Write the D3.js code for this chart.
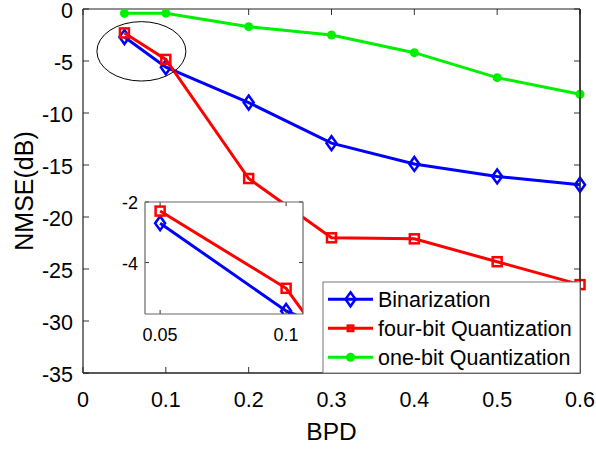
<!DOCTYPE html>
<head>
<meta charset="UTF-8">
<title>NMSE vs BPD</title>
<style>
body { margin: 0; background: #fff; }
text { font-family: "Liberation Sans", Arial, sans-serif; }
.line { fill: none; stroke-width: 3px; }
</style>
</head>
<body>
<script src="https://cdn.jsdelivr.net/npm/d3@7/dist/d3.min.js"></script>
<script>

// data
var bpd = [0.05, 0.1, 0.2, 0.3, 0.4, 0.5, 0.6];
var binarization = [-2.7, -5.6, -9.0, -12.9, -14.9, -16.1, -16.9];
var fourBit = [-2.3, -4.85, -16.3, -22.0, -22.1, -24.3, -26.5];
var oneBit = [-0.42, -0.4, -1.7, -2.5, -4.2, -6.6, -8.2];
var xTicks = [0, 0.1, 0.2, 0.3, 0.4, 0.5, 0.6];
var yTicks = [0, -5, -10, -15, -20, -25, -30, -35];
var insetXTicks = [0.05, 0.1];
var insetYTicks = [-2, -4];

var series = [
  {name: "Binarization", values: binarization, color: "#0000ff", marker: "diamond"},
  {name: "four-bit Quantization", values: fourBit, color: "#ff0000", marker: "square"},
  {name: "one-bit Quantization", values: oneBit, color: "#00f000", marker: "circle"}
];

var W = 596, H = 449;
var margin = {top: 9, right: 16, bottom: 76, left: 83};

var svg = d3.select("body").append("svg")
    .attr("width", W)
    .attr("height", H);

var x = d3.scaleLinear().domain([0, 0.6]).range([margin.left, W - margin.right]);
var y = d3.scaleLinear().domain([-35, 0]).range([H - margin.bottom, margin.top]);

// draw a marker at px,py
function drawMarker(g, type, px, py, color, s) {
  s = s || 1;
  if (type == "diamond") {
    g.append("path")
      .attr("d", "M" + px + "," + (py - 7 * s) + " L" + (px + 5 * s) + "," + py + " L" + px + "," + (py + 7 * s) + " L" + (px - 5 * s) + "," + py + " Z")
      .attr("fill", "none").attr("stroke", color).attr("stroke-width", 2.5);
  } else if (type == "square") {
    g.append("rect")
      .attr("x", px - 4.5 * s).attr("y", py - 4.5 * s)
      .attr("width", 9 * s).attr("height", 9 * s)
      .attr("fill", "none").attr("stroke", color).attr("stroke-width", 2.5);
  } else {
    g.append("circle")
      .attr("cx", px).attr("cy", py).attr("r", 4.5 * s)
      .attr("fill", color);
  }
}

// box with inside ticks on all sides
function drawBox(g, xs, ys, xt, yt, fsize, tickLen, boxColor, xLabDy, yLabDx) {
  var x0 = xs.range()[0], x1 = xs.range()[1];
  var y0 = ys.range()[1], y1 = ys.range()[0];
  xt.forEach(function(t) {
    g.append("line").attr("x1", xs(t)).attr("x2", xs(t)).attr("y1", y1).attr("y2", y1 - tickLen).attr("stroke", "#333");
    g.append("line").attr("x1", xs(t)).attr("x2", xs(t)).attr("y1", y0).attr("y2", y0 + tickLen).attr("stroke", "#333");
    g.append("text").attr("x", xs(t)).attr("y", y1 + xLabDy)
      .attr("text-anchor", "middle").attr("font-size", fsize).text(String(t));
  });
  yt.forEach(function(t) {
    g.append("line").attr("x1", x0).attr("x2", x0 + tickLen).attr("y1", ys(t)).attr("y2", ys(t)).attr("stroke", "#333");
    g.append("line").attr("x1", x1).attr("x2", x1 - tickLen).attr("y1", ys(t)).attr("y2", ys(t)).attr("stroke", "#333");
    g.append("text").attr("x", x0 - yLabDx).attr("y", ys(t)).attr("dy", "0.4em")
      .attr("text-anchor", "end").attr("font-size", fsize).text(String(t));
  });
  g.append("path")
    .attr("d", "M" + x0 + "," + y1 + " H" + x1 + " V" + y0)
    .attr("fill", "none").attr("stroke", boxColor[1]).attr("stroke-width", 1.2);
  g.append("path")
    .attr("d", "M" + x0 + "," + y0 + " V" + y1 + " M" + x0 + "," + y0 + " H" + x1)
    .attr("fill", "none").attr("stroke", boxColor[0]).attr("stroke-width", 1.2);
}

var main = svg.append("g");
drawBox(main, x, y, xTicks, yTicks, 21.5, 6, ["#222", "#222"], 34, 10);

var line = d3.line()
  .x(function(d, i) { return x(bpd[i]); })
  .y(function(d) { return y(d); });

series.forEach(function(s) {
  main.append("path").attr("class", "line").attr("stroke", s.color).attr("d", line(s.values));
  s.values.forEach(function(v, i) { drawMarker(main, s.marker, x(bpd[i]), y(v), s.color); });
});

// ellipse marking the zoomed region
main.append("ellipse")
  .attr("cx", x(0.0705)).attr("cy", y(-4.07))
  .attr("rx", 44.5).attr("ry", 29.7)
  .attr("fill", "none").attr("stroke", "#000").attr("stroke-width", 1);

// axis labels
svg.append("text").attr("x", (x(0) + x(0.6)) / 2).attr("y", 440)
  .attr("text-anchor", "middle").attr("font-size", 24.5).text("BPD");
svg.append("text")
  .attr("transform", "translate(33," + ((y(0) + y(-35)) / 2) + ") rotate(-90)")
  .attr("text-anchor", "middle").attr("font-size", 25).text("NMSE(dB)");

// inset
var xi = d3.scaleLinear().domain([0.0440, 0.1067]).range([145, 303]);
var yi = d3.scaleLinear().domain([-5.7, -2]).range([314, 202]);
var inset = svg.append("g");
inset.append("rect").attr("x", 145).attr("y", 202).attr("width", 158).attr("height", 112).attr("fill", "#fff");
svg.append("clipPath").attr("id", "insetClip")
  .append("rect").attr("x", 145).attr("y", 202).attr("width", 158).attr("height", 112);
var insetData = inset.append("g").attr("clip-path", "url(#insetClip)");
var lineI = d3.line()
  .x(function(d, i) { return xi(bpd[i]); })
  .y(function(d) { return yi(d); });
series.slice(0, 2).forEach(function(s) {
  insetData.append("path").attr("class", "line").attr("stroke", s.color).attr("d", lineI(s.values.slice(0, 3)));
  s.values.slice(0, 2).forEach(function(v, i) { drawMarker(insetData, s.marker, xi(bpd[i]), yi(v), s.color); });
});
drawBox(inset, xi, yi, insetXTicks, insetYTicks, 18, 4, ["#666", "#666"], 27, 7);

// legend
var lg = svg.append("g");
lg.append("rect").attr("x", 323).attr("y", 282).attr("width", 257).attr("height", 91)
  .attr("fill", "#fff").attr("stroke", "#777").attr("stroke-width", 1);
series.forEach(function(s, i) {
  var ly = 299.3 + i * 29;
  lg.append("line").attr("x1", 328).attr("x2", 373).attr("y1", ly).attr("y2", ly)
    .attr("stroke", s.color).attr("stroke-width", 3);
  drawMarker(lg, s.marker, 350.5, ly, s.color, s.marker == "square" ? 0.6 : 1);
  lg.append("text").attr("x", 378).attr("y", ly).attr("dy", "0.36em")
    .attr("font-size", 21.5).text(s.name);
});
// redraw bottom/right edges of main box over legend
main.append("path")
  .attr("d", "M" + x(0) + "," + y(-35) + " H" + x(0.6) + " V" + y(0))
  .attr("fill", "none").attr("stroke", "#222").attr("stroke-width", 1.2);

</script>
</body>
